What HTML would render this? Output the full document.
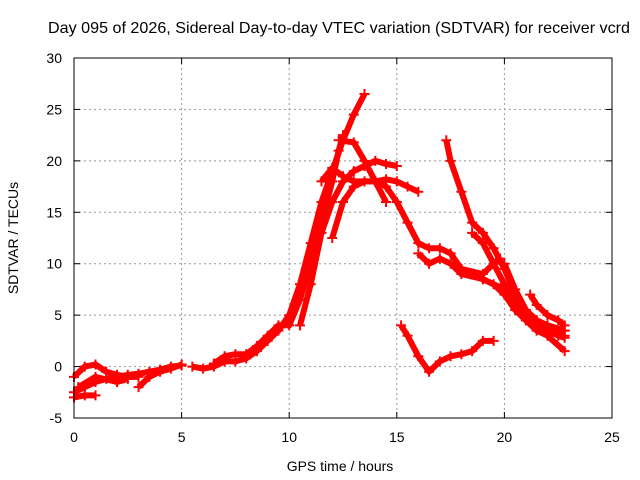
<!DOCTYPE html>
<html><head><meta charset="utf-8"><style>
body{margin:0;background:#fff}
svg{display:block;font-family:"Liberation Sans",sans-serif}
</style></head><body>
<svg id="chart" width="640" height="480" viewBox="0 0 640 480">
<rect width="640" height="480" fill="#fff"/>
<text x="339" y="33" font-size="16" text-anchor="middle" textLength="582" lengthAdjust="spacingAndGlyphs">Day 095 of 2026, Sidereal Day-to-day VTEC variation (SDTVAR) for receiver vcrd</text>
<g id="grid"></g>
<g id="series"></g>
<rect x="74" y="58" width="538" height="360" fill="none" stroke="#000" stroke-width="1"/>
<g id="ticks"></g>
<text x="340" y="471" font-size="14" text-anchor="middle">GPS time / hours</text>
<text x="0" y="0" font-size="14" text-anchor="middle" transform="translate(18,238) rotate(-90)">SDTVAR / TECUs</text>
</svg>
<script>
const xTicks=[0,5,10,15,20,25];
const yTicks=[-5,0,5,10,15,20,25,30];
const track1=[[0,-2.5],[0.5,-2],[1,-1.5],[1.5,-1.2],[2,-1],[2.5,-0.8],[3,-0.7],[3.5,-0.5],[4,-0.3],[4.5,0],[5,0.1]];
const track2=[[0,-1],[0.5,0],[1,0.2],[1.5,-0.5],[2,-0.8],[2.5,-1],[3,-1]];
const track3=[[0,-3],[0.5,-2.8],[1,-2.8]];
const track4=[[0.2,-2],[1,-1],[2,-1.5],[2.5,-1.2]];
const track5=[[3,-2],[3.5,-1],[4,-0.5],[4.5,-0.2],[5,0.2]];
const track6=[[5.5,0],[6,-0.2],[6.5,0],[7,0.5],[7.5,0.5],[8,0.8],[8.5,1.5],[9,2.5],[9.5,3.5],[10,5],[10.5,8],[11,12],[11.5,16],[12,19],[12.5,22],[13,24.5],[13.5,26.5]];
const track7=[[6.5,0.3],[7,1],[7.5,1.2],[8,1.2],[8.5,2],[9,3],[9.5,4],[10,4],[10.5,6.5],[11,10],[11.5,14],[12,18],[12.3,21],[12.5,22.5]];
const track8=[[10.5,4],[11,8],[11.5,13],[12,16],[12.5,18],[13,19],[13.5,19.5],[14,20],[14.5,19.7],[15,19.5]];
const track9=[[11.5,18],[12,19.3],[12.5,18.5],[13,18],[13.5,18],[14,18],[14.5,18.2],[15,18],[15.5,17.5],[16,17]];
const track10=[[12.3,22],[13,21.8],[13.5,20],[14,18],[14.5,16]];
const track11=[[12,12.5],[12.5,16],[13,17.5],[13.5,18],[14,18],[14.5,17.5],[15,16],[15.5,14],[16,12],[16.5,11.5],[17,11.5],[17.5,11],[18,9.5],[18.5,9],[19,8.5],[19.5,8],[20,7],[20.5,5.5],[21,4.5],[21.5,4],[22,3.5],[22.5,3],[22.8,2.8]];
const track12=[[16,11],[16.5,10],[17,10.5],[17.5,10],[18,9],[19,8.5],[20,7.5],[20.5,6],[21,5],[21.5,4.5],[22,4],[22.8,3.5]];
const track13=[[17.3,22],[17.5,20],[18,17],[18.5,14],[19,13],[19.5,11.5],[20,9.5],[20.5,7],[21,5],[21.5,4],[22,3.5],[22.8,3]];
const track14=[[18.5,13],[19,12],[19.5,10],[20,8],[20.5,6],[21,4.5],[21.5,3.5],[22,3],[22.8,1.5]];
const track15=[[20,10],[20.5,7.5],[21,5.5],[21.5,4.5],[22,4],[22.8,3.5]];
const track16=[[21.2,7],[21.5,6],[22,5],[22.5,4.5],[22.8,4]];
const track17=[[18,9.5],[19,9],[19.5,10],[19.8,10.5]];
const track18=[[15.2,4],[15.5,3],[16,1],[16.5,-0.5],[17,0.5],[17.5,1],[18,1.2],[18.5,1.5],[19,2.5],[19.5,2.5]];
const tracks=[track1,track2,track3,track4,track5,track6,track7,track8,track9,track10,track11,track12,track13,track14,track15,track16,track17,track18];

const X=v=>74+v*(538/25);
const Y=v=>418-(v+5)*(360/35);
const NS='http://www.w3.org/2000/svg';
const grid=document.getElementById('grid'),ticks=document.getElementById('ticks'),ser=document.getElementById('series');
function mk(tag,attrs,parent){const e=document.createElementNS(NS,tag);for(const k in attrs)e.setAttribute(k,attrs[k]);parent.appendChild(e);return e;}
xTicks.forEach(t=>{
  const x=X(t);
  if(t>0&&t<25){const g=mk('line',{x1:x,x2:x,y1:58,y2:418,stroke:'#999','stroke-dasharray':'2,3'},grid);
  
  }
  mk('line',{x1:x,x2:x,y1:418,y2:412,stroke:'#000'},ticks);
  mk('line',{x1:x,x2:x,y1:58,y2:64,stroke:'#000'},ticks);
  const l=mk('text',{x:x,y:442,'font-size':14,'text-anchor':'middle'},ticks);l.textContent=t;
  
  
});
yTicks.forEach(t=>{
  const y=Y(t);
  if(t>-5&&t<30){const g=mk('line',{x1:74,x2:612,y1:y,y2:y,stroke:'#999','stroke-dasharray':'2,3'},grid);
  
  }
  mk('line',{x1:74,x2:80,y1:y,y2:y,stroke:'#000'},ticks);
  mk('line',{x1:606,x2:612,y1:y,y2:y,stroke:'#000'},ticks);
  const l=mk('text',{x:62,y:y+5,'font-size':14,'text-anchor':'end'},ticks);l.textContent=t;
  
  
});
tracks.forEach((tr,i)=>{
  const p=mk('polyline',{points:tr.map(d=>X(d[0])+','+Y(d[1])).join(' '),fill:'none',stroke:'#f00','stroke-width':6,'stroke-linejoin':'round'},ser);
  
  
  tr.forEach(d=>{
    const x=X(d[0]),y=Y(d[1]);
    const m=mk('path',{d:`M${x-5},${y}H${x+5}M${x},${y-5}V${y+5}`,stroke:'#f00','stroke-width':2},ser);
    
    
  });
});
</script>
</body></html>
